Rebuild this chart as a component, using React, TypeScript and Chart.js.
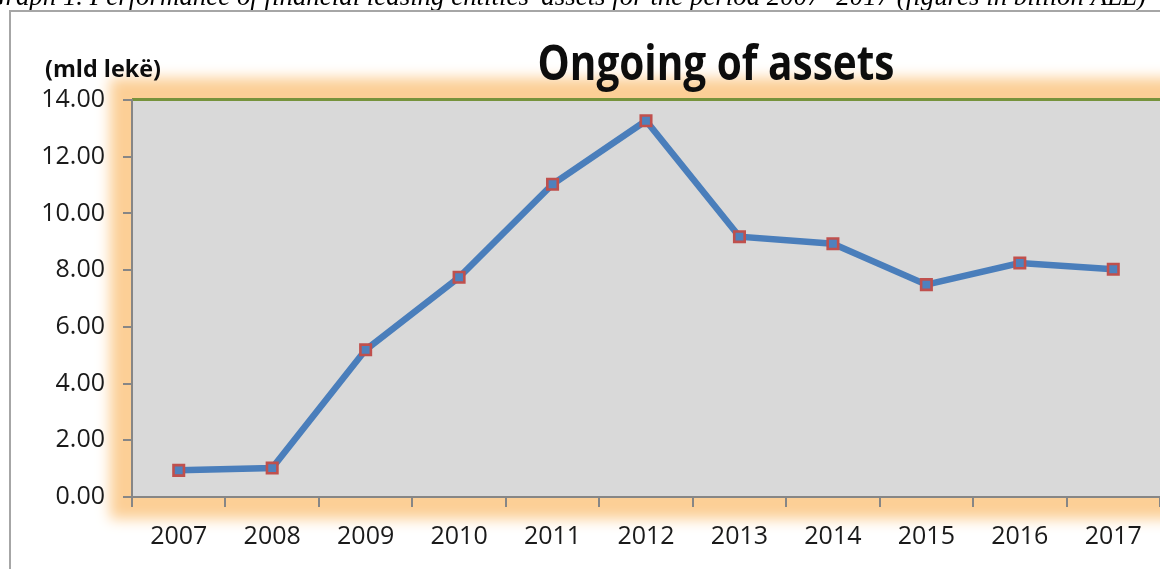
import React, { useEffect, useRef } from "react";
import { Chart, registerables } from "chart.js";

Chart.register(...registerables);

// ---- data ----
const years = ["2007", "2008", "2009", "2010", "2011", "2012", "2013", "2014", "2015", "2016", "2017"];
const assets = [0.94, 1.02, 5.19, 7.75, 11.03, 13.27, 9.18, 8.93, 7.49, 8.25, 8.03];
const yMin = 0;
const yMax = 14;
const yStep = 2;
const titleText = "Ongoing of assets";
const unitText = "(mld lekë)";
const captionText =
  "Graph 1. Performance of financial leasing entities' assets for the period 2007- 2017 (figures in billion ALL)";

const AXIS = "#868686";
const TEXT = "#1a1a1a";
const GLOW = "rgb(252,207,150)";

const backdrop = {
  id: "backdrop",
  beforeDraw(chart: any) {
    const { ctx, chartArea: a } = chart;
    ctx.save();
    ctx.fillStyle = "#ffffff";
    ctx.fillRect(0, 0, chart.width, chart.height);

    // caption (cut at the top of the picture)
    ctx.fillStyle = "#000";
    ctx.font = "italic 27px 'Liberation Serif', serif";
    ctx.textAlign = "left";
    ctx.textBaseline = "alphabetic";
    ctx.fillText(captionText, -14, 5, 1160);

    // frame
    ctx.strokeStyle = "#a6a6a6";
    ctx.lineWidth = 2;
    ctx.beginPath();
    ctx.moveTo(10, chart.height);
    ctx.lineTo(10, 11);
    ctx.lineTo(chart.width, 11);
    ctx.stroke();

    // orange glow around plot area
    const e = 22;
    const off = 20000;
    ctx.save();
    ctx.shadowColor = GLOW;
    ctx.shadowBlur = 13;
    ctx.shadowOffsetX = off;
    ctx.fillStyle = GLOW;
    ctx.fillRect(a.left - e - off, a.top - e, a.right - a.left + 2 * e, a.bottom - a.top + 2 * e);
    ctx.restore();

    // plot area
    ctx.fillStyle = "#d9d9d9";
    ctx.fillRect(a.left, a.top, a.right - a.left, a.bottom - a.top);

    // green top edge
    ctx.strokeStyle = "#77933c";
    ctx.lineWidth = 3;
    ctx.beginPath();
    ctx.moveTo(a.left, a.top - 0.5);
    ctx.lineTo(a.right, a.top - 0.5);
    ctx.stroke();

    // title
    ctx.fillStyle = "#0d0d0d";
    ctx.font = "bold 49px 'Open Sans', sans-serif";
    ctx.textAlign = "center";
    ctx.fillText(titleText, 716, 80, 357);

    // unit label
    ctx.font = "bold 24px 'Open Sans', sans-serif";
    ctx.textAlign = "left";
    ctx.fillText(unitText, 45, 77, 116);
    ctx.restore();
  },
};

export default function App() {
  const ref = useRef<HTMLCanvasElement | null>(null);

  useEffect(() => {
    if (!ref.current) return;
    const chart = new Chart(ref.current, {
      type: "line",
      data: {
        labels: years,
        datasets: [
          {
            data: assets,
            borderColor: "#4a7ebb",
            borderWidth: 6.5,
            tension: 0,
            pointStyle: "rect",
            pointRadius: 7.4,
            pointBackgroundColor: "#4f81bd",
            pointBorderColor: "#c0504d",
            pointBorderWidth: 2.6,
          },
        ],
      },
      options: {
        responsive: false,
        animation: false,
        devicePixelRatio: 1,
        layout: { padding: { top: 100, right: 8, left: 0, bottom: 0 } },
        plugins: { legend: { display: false }, tooltip: { enabled: false }, title: { display: false } },
        scales: {
          x: {
            type: "category",
            offset: true,
            grid: {
              offset: true,
              drawOnChartArea: false,
              drawTicks: true,
              tickLength: 10,
              color: AXIS,
              lineWidth: 2,
            },
            border: { display: true, color: AXIS, width: 2 },
            ticks: {
              color: TEXT,
              padding: 15,
              maxRotation: 0,
              autoSkip: false,
              font: { family: "'Open Sans', sans-serif", size: 25 },
            },
            afterFit(scale: any) {
              scale.height = 72;
            },
          },
          y: {
            min: yMin,
            max: yMax,
            grid: {
              drawOnChartArea: false,
              drawTicks: true,
              tickLength: 9,
              color: AXIS,
              lineWidth: 2,
            },
            border: { display: true, color: AXIS, width: 2 },
            ticks: {
              stepSize: yStep,
              color: TEXT,
              padding: 18,
              font: { family: "'Open Sans', sans-serif", size: 25 },
              callback: (v: any) => Number(v).toFixed(2),
            },
            afterFit(scale: any) {
              scale.width = 132;
            },
          },
        },
      },
      plugins: [backdrop],
    });
    return () => chart.destroy();
  }, []);

  return (
    <div
      style={{
        position: "absolute",
        left: 0,
        top: 0,
        width: 1160,
        height: 569,
        overflow: "hidden",
        background: "#fff",
      }}
    >
      <canvas ref={ref} width={1170} height={569} style={{ display: "block" }} />
    </div>
  );
}
